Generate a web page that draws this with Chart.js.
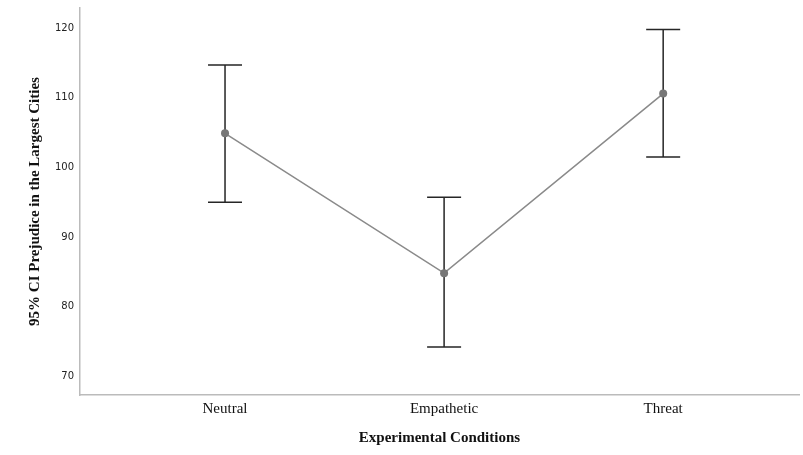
<!DOCTYPE html>
<html>
<head>
<meta charset="utf-8">
<script src="https://cdn.jsdelivr.net/npm/chart.js@4.4.0/dist/chart.umd.min.js"></script>
<style>
  html, body { margin: 0; padding: 0; background: #fff; }
  #wrap { width: 803px; height: 455px; }
</style>
</head>
<body>
<div id="wrap"><canvas id="ciChart"></canvas></div>
<script>
// Condition means with 95% CI bounds
const conditions = ["Neutral", "Empathetic", "Threat"];
const means = [104.9, 84.8, 110.6];
const ciLower = [95.0, 74.2, 101.5];
const ciUpper = [114.7, 95.7, 119.8];

// Whisker plugin - drawn under the points
const errorBars = {
  id: "errorBars",
  beforeDatasetsDraw(chart) {
    const { ctx, scales: { x, y } } = chart;
    ctx.save();
    ctx.strokeStyle = "#262626";
    ctx.lineWidth = 1.5;
    conditions.forEach((c, i) => {
      const px = x.getPixelForValue(i);
      const top = y.getPixelForValue(ciUpper[i]);
      const bot = y.getPixelForValue(ciLower[i]);
      ctx.beginPath();
      ctx.moveTo(px, top); ctx.lineTo(px, bot);
      ctx.moveTo(px - 17, top); ctx.lineTo(px + 17, top);
      ctx.moveTo(px - 17, bot); ctx.lineTo(px + 17, bot);
      ctx.stroke();
    });
    ctx.restore();
  }
};

new Chart(document.getElementById("ciChart"), {
  type: "line",
  data: {
    datasets: [{
      data: means.map((m, i) => ({ x: i, y: m })),
      borderColor: "#8a8a8a",
      borderWidth: 1.5,
      pointRadius: 4,
      pointBackgroundColor: "#777",
      pointBorderWidth: 0,
      tension: 0
    }]
  },
  options: {
    responsive: true,
    maintainAspectRatio: false,
    animation: false,
    layout: { padding: 0 },
    plugins: { legend: { display: false }, tooltip: { enabled: false } },
    scales: {
      x: {
        type: "linear",
        min: -0.662,
        max: 2.62,
        grid: { display: false, drawTicks: false },
        border: { color: "#bbb", width: 1.5 },
        afterBuildTicks: s => { s.ticks = conditions.map((c, i) => ({ value: i })); },
        afterFit: s => { s.height = 60; s.paddingLeft = 0; s.paddingRight = 0; },
        ticks: {
          padding: 5,
          color: "#111",
          font: { family: "Liberation Serif", size: 15 },
          callback: v => conditions[v]
        },
        title: {
          display: true,
          text: "Experimental Conditions",
          color: "#111",
          padding: { bottom: 8, top: 0 },
          font: { family: "Liberation Serif", size: 15, weight: "bold" }
        }
      },
      y: {
        min: 67.3,
        max: 122.9,
        grid: { display: false, drawTicks: false },
        border: { color: "#bbb", width: 1.5 },
        afterFit: s => { s.width = 80; s.paddingTop = 8; s.paddingBottom = 0; },
        ticks: {
          stepSize: 10,
          includeBounds: false,
          padding: 6,
          color: "#222",
          font: { family: "DejaVu Sans", size: 10 }
        },
        title: {
          display: true,
          text: "95% CI Prejudice in the Largest Cities",
          color: "#111",
          padding: { top: 26, bottom: 0 },
          font: { family: "Liberation Serif", size: 15, weight: "bold" }
        }
      }
    }
  },
  plugins: [errorBars]
});
</script>
</body>
</html>
